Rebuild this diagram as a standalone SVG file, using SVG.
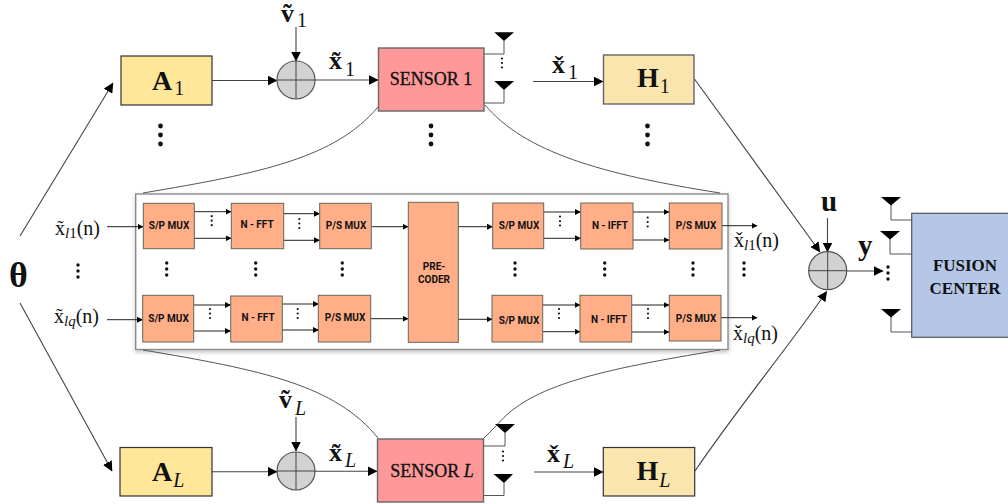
<svg xmlns="http://www.w3.org/2000/svg" width="1008" height="504" viewBox="0 0 1008 504">
<style>
text{font-family:"Liberation Serif","Times New Roman",serif;fill:#111}
.b{font-weight:700}
.sub{font-weight:400}
.it{font-style:italic;font-weight:400}
.a{fill:#ffe699;stroke:#333;stroke-width:1.2}
.h{fill:#fbe5ae;stroke:#666;stroke-width:1.4}
.s{fill:#ff9999;stroke:#666;stroke-width:1.4}
.m{fill:#ffae87;stroke:#665;stroke-width:1}
.ml{font-family:Roboto,"Liberation Sans",sans-serif;font-weight:700;font-size:10px;text-anchor:middle}
.sn{font-size:18px;text-anchor:middle;stroke:#111;stroke-width:.3}
.fc{font-size:17px;font-weight:700;text-anchor:middle}
.sum{fill:#d2d2d2;stroke:#555;stroke-width:1.2}
.w{fill:none;stroke:#444;stroke-width:1}
.c{fill:none;stroke:#444;stroke-width:1.1;marker-end:url(#big)}
.t{fill:none;stroke:#222;stroke-width:1;marker-end:url(#small)}
.e{fill:none;stroke:#555;stroke-width:1}
.ant{fill:none;stroke:#555;stroke-width:1}
.tr{fill:#000}
.lb{font-size:20px}
.ls{font-size:15px}
</style>
<defs>
<marker id="big" markerUnits="userSpaceOnUse" markerWidth="10" markerHeight="10" refX="9.5" refY="5" orient="auto"><path d="M0 0L10 5L0 10z" fill="#000"/></marker>
<marker id="small" markerUnits="userSpaceOnUse" markerWidth="6" markerHeight="6" refX="5.5" refY="3" orient="auto"><path d="M0 0L6 3L0 6z" fill="#000"/></marker>
<filter id="shadow" x="-3%" y="-5%" width="106%" height="110%"><feDropShadow dx="0" dy="2" stdDeviation="2" flood-color="#000" flood-opacity=".25"/></filter>
<g id="d3"><circle cy="-9" r="2.4"/><circle cy="0" r="2.4"/><circle cy="9" r="2.4"/></g>
<g id="d2"><circle cy="-6" r="1.7"/><circle cy="0" r="1.7"/><circle cy="6" r="1.7"/></g>
<g id="d1"><circle cy="-4.500" r="1.100"/><circle cy="0" r="1.100"/><circle cy="4.500" r="1.100"/></g>
</defs>

<g id="panel"><rect x="135.700" y="194" width="592.300" height="155.500" fill="#fff" stroke="#8a8a8a" stroke-width="1.400" filter="url(#shadow)"/></g>

<g id="connectors">
<path class="c" d="M20 236L113 83"/>
<path class="c" d="M20 303L112 471"/>
<path class="c" d="M212 80.500H277"/>
<path class="c" d="M315 80H378"/>
<path class="c" d="M296 27V61"/>
<path class="c" d="M533 81.500H603"/>
<path class="c" d="M212 471.700H277"/>
<path class="c" d="M315 471.300H377"/>
<path class="c" d="M296 417V451"/>
<path class="c" d="M534 472H603"/>
<path class="c" d="M694.500 79L820 252"/>
<path class="c" d="M695 471C740 405 790 345 826.700 291.500"/>
<path class="c" d="M827.500 218V252"/>
<path class="c" d="M847 271H883"/>
<path class="e" d="M378 107C335 158 262 173 143 193"/>
<path class="e" d="M485 105C525 152 600 174 720 193"/>
<path class="e" d="M143 350C262 370 335 385 378 438"/>
<path class="e" d="M720 350C600 370 530 385 497 425L483 439"/>
<path class="ant" d="M484 54H504V41M484 103H504V90"/>
<path class="ant" d="M484 446H505V433M484 495.500H504V483"/>
<path class="ant" d="M912 220H891V205M912 254H890V239M912 332H891V317"/>
<path class="t" d="M107 226.700H143"/>
<path class="t" d="M194 211.700H231"/><path class="t" d="M194 238.300H231"/>
<path class="t" d="M284 213.700H319.500"/><path class="t" d="M284 240.300H319.500"/>
<path class="t" d="M371 226.700H408"/>
<path class="t" d="M107 319.700H142.500"/>
<path class="t" d="M194 305H230.500"/><path class="t" d="M194 331H230.500"/>
<path class="t" d="M282 304H318.500"/><path class="t" d="M282 330H318.500"/>
<path class="t" d="M370.500 318.700H408"/>
<path class="t" d="M458 226.700H492.500"/><path class="t" d="M458 319.300H492"/>
<path class="t" d="M543.500 212H580.500"/><path class="t" d="M543.500 238.300H580.500"/>
<path class="t" d="M633 212H669"/><path class="t" d="M633 240H669"/>
<path class="t" d="M722 225.700H757"/>
<path class="t" d="M542.500 305H580"/><path class="t" d="M542.500 331.700H580"/>
<path class="t" d="M631.500 305H669"/><path class="t" d="M631.500 332H669"/>
<path class="t" d="M721 317.700H757"/>
</g>

<g id="antennas">
<path class="tr" d="M494.300 32.300H514L504 41zM494.300 81H514L504 90z"/>
<path class="tr" d="M495 424H515L505 433zM493.500 474H513L504 483z"/>
<path class="tr" d="M881 197H901L891 205.500zM880 231H900L890 239.500zM881 309H901L891 317.500z"/>
</g>

<g id="dots" fill="#111">
<use href="#d3" x="160.500" y="135"/><use href="#d3" x="431" y="135"/><use href="#d3" x="647.500" y="135"/>
<use href="#d2" x="78" y="271"/><use href="#d2" x="166.700" y="269"/><use href="#d2" x="255.700" y="269"/><use href="#d2" x="342.300" y="269"/>
<use href="#d2" x="515" y="269"/><use href="#d2" x="604.700" y="269"/><use href="#d2" x="693" y="269"/><use href="#d2" x="744" y="269"/>
<use href="#d1" x="211.700" y="220.700"/><use href="#d1" x="299.300" y="223.500"/><use href="#d1" x="560" y="221"/><use href="#d1" x="647.700" y="222"/>
<use href="#d1" x="210" y="313.500"/><use href="#d1" x="297.700" y="313.500"/><use href="#d1" x="559" y="313.500"/><use href="#d1" x="648" y="313.500"/>
<use href="#d1" x="502" y="63"/><use href="#d1" x="503" y="456"/>
<use href="#d2" x="888" y="273"/>
</g>

<g id="theta"><text x="9" y="287" font-size="36" class="b">θ</text></g>
<g id="A1"><rect class="a" x="121" y="56" width="91" height="49"/><text x="152" y="90" font-size="28" class="b">A<tspan class="sub" font-size="20" dx="2" dy="5">1</tspan></text></g>
<g id="AL"><rect class="a" x="120" y="447.500" width="92" height="48.500"/><text x="152" y="481" font-size="28" class="b">A<tspan class="it" font-size="20" dx="1" dy="6">L</tspan></text></g>
<g id="sum1"><circle class="sum" cx="296" cy="80" r="19"/><path class="w" d="M277 80H315M296 61V99"/></g>
<g id="sumL"><circle class="sum" cx="296" cy="471" r="19"/><path class="w" d="M277 471H315M296 452V490"/></g>
<g id="sumF"><circle class="sum" cx="827.700" cy="270.700" r="19"/><path class="w" d="M808.700 270.700H846.700M827.700 251.700V289.700"/></g>
<g id="sensor1"><rect class="s" x="378.500" y="48" width="105.500" height="63"/><text class="sn" x="431" y="85">SENSOR 1</text></g>
<g id="sensorL"><rect class="s" x="377.500" y="439" width="106" height="63"/><text class="sn" x="432" y="477">SENSOR <tspan font-style="italic">L</tspan></text></g>
<g id="H1"><rect class="h" x="603.500" y="55" width="90.500" height="49"/><text x="637" y="87" font-size="28" class="b">H<tspan class="sub" font-size="20" dx="1" dy="6">1</tspan></text></g>
<g id="HL"><rect class="a" style="fill:#fbe5ae" x="603.300" y="447.500" width="91.400" height="48.500"/><text x="636.500" y="480" font-size="28" class="b">H<tspan class="it" font-size="20" dx="1" dy="7">L</tspan></text></g>
<g id="fusion"><rect x="911.700" y="213.300" width="100" height="124" fill="#b4c7e7" stroke="#555" stroke-width="1.200"/><text class="fc" x="965" y="271">FUSION</text><text class="fc" x="965" y="294">CENTER</text></g>

<g id="labels">
<text x="281" y="22" font-size="26" class="b">ṽ<tspan class="sub" font-size="20" dx="3" dy="5">1</tspan></text>
<text x="329" y="69" font-size="26" class="b">x̃<tspan class="sub" font-size="20" dx="3" dy="7">1</tspan></text>
<text x="552" y="72.700" font-size="26" class="b">x̌<tspan class="sub" font-size="20" dx="3" dy="6">1</tspan></text>
<text x="279" y="408" font-size="26" class="b">ṽ<tspan class="it" font-size="20" dx="3" dy="7">L</tspan></text>
<text x="329" y="460.700" font-size="26" class="b">x̃<tspan class="it" font-size="20" dx="3" dy="6">L</tspan></text>
<text x="547" y="461.700" font-size="26" class="b">x̌<tspan class="it" font-size="20" dx="3" dy="6">L</tspan></text>
<text x="821" y="211" font-size="29" class="b">u</text>
<text x="858" y="255" font-size="29" class="b">y</text>
<text x="55" y="235" class="lb">x̃<tspan class="it ls" dy="3">l</tspan><tspan class="ls">1</tspan><tspan dy="-3">(n)</tspan></text>
<text x="54" y="323" class="lb">x̃<tspan class="it ls" dy="3">lq</tspan><tspan dy="-3">(n)</tspan></text>
<text x="734" y="246.700" class="lb">x̌<tspan class="it ls" dy="3">l</tspan><tspan class="ls">1</tspan><tspan dy="-3">(n)</tspan></text>
<text x="733" y="340" class="lb">x̌<tspan class="it ls" dy="3">lq</tspan><tspan dy="-3">(n)</tspan></text>
</g>

<g id="spmux1"><rect class="m" x="143.300" y="203.300" width="51" height="45.400"/><text class="ml" x="169" y="229">S/P MUX</text></g>
<g id="fft1"><rect class="m" x="231.300" y="203.300" width="52.400" height="45.400"/><text class="ml" x="257" y="228">N - FFT</text></g>
<g id="psmux1"><rect class="m" x="319.700" y="203.300" width="51.600" height="45.400"/><text class="ml" x="346" y="229">P/S MUX</text></g>
<g id="spmux2"><rect class="m" x="142.700" y="295.300" width="51" height="46.700"/><text class="ml" x="168.500" y="322">S/P MUX</text></g>
<g id="fft2"><rect class="m" x="230.700" y="296" width="51.600" height="46"/><text class="ml" x="258" y="321">N - FFT</text></g>
<g id="psmux2"><rect class="m" x="318.300" y="295.300" width="52.400" height="46.700"/><text class="ml" x="345" y="321">P/S MUX</text></g>
<g id="precoder"><rect class="m" x="408.300" y="202.300" width="50" height="140"/><text class="ml" x="434" y="270">PRE-</text><text class="ml" x="434" y="283">CODER</text></g>
<g id="spmux3"><rect class="m" x="492.700" y="203" width="51" height="45.700"/><text class="ml" x="519" y="229">S/P MUX</text></g>
<g id="ifft1"><rect class="m" x="580.700" y="203" width="52.300" height="46"/><text class="ml" x="610" y="229">N -  IFFT</text></g>
<g id="psmux3"><rect class="m" x="669.300" y="203" width="52.700" height="46"/><text class="ml" x="696" y="229">P/S MUX</text></g>
<g id="spmux4"><rect class="m" x="492" y="295.300" width="50.700" height="46.700"/><text class="ml" x="519" y="324">S/P MUX</text></g>
<g id="ifft2"><rect class="m" x="580" y="295.300" width="51.700" height="46.700"/><text class="ml" x="609" y="323">N -  IFFT</text></g>
<g id="psmux4"><rect class="m" x="669.300" y="295.300" width="51.700" height="45.700"/><text class="ml" x="696" y="322">P/S MUX</text></g>
</svg>
